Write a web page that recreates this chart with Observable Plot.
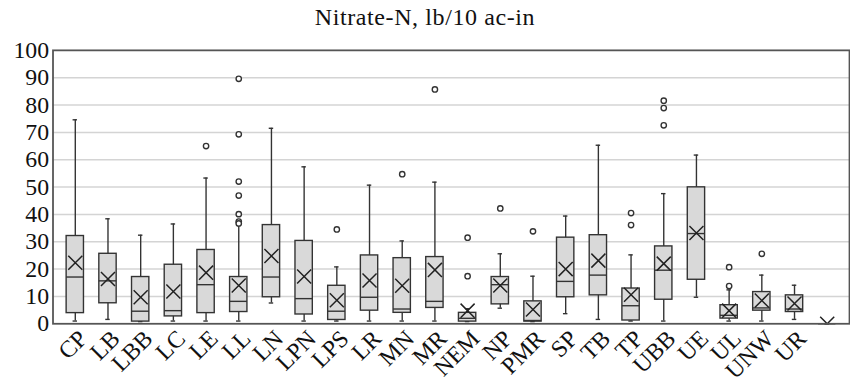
<!DOCTYPE html>
<html>
<head>
<meta charset="utf-8">
<script src="https://cdn.jsdelivr.net/npm/d3@7"></script>
<script src="https://cdn.jsdelivr.net/npm/@observablehq/plot@0.6"></script>
<style>
  html, body { margin: 0; padding: 0; background: #fff; overflow: hidden; width: 850px; height: 385px; }
  #title { width: 850px; height: 35px; line-height: 35px; text-align: center;
           font-family: 'Liberation Serif', serif; font-size: 24px; letter-spacing: 0.6px; color: #111; }
  #chart { width: 850px; overflow: hidden; }
  #chart text { font-family: 'Liberation Serif', serif; }
</style>
</head>
<body>
<div id="title">Nitrate-N, lb/10 ac-in</div>
<div id="chart"></div>
<script>
const categories = ["CP","LB","LBB","LC","LE","LL","LN","LPN","LPS","LR","MN","MR","NEM","NP","PMR","SP","TB","TP","UBB","UE","UL","UNW","UR"," "];
const whiskerLow  = [1.0, 1.6, 0.8, 1.0, 1.0, 1.0, 7.6, 1.0, 1.0, 1.0, 1.0, 1.0, 0.8, 5.7, 0.8, 3.7, 1.6, 1.0, 1.0, 9.7, 1.0, 1.0, 1.6, 0];
const q1          = [3.9, 7.5, 0.8, 2.7, 3.9, 4.3, 9.7, 3.4, 1.4, 4.8, 4.0, 5.8, 0.8, 7.1, 0.8, 9.7, 10.4, 1.2, 8.8, 16.1, 1.9, 4.8, 4.3, 0];
const median      = [17.1, 15.7, 4.6, 4.8, 14.3, 8.2, 17.1, 9.2, 4.6, 9.7, 5.4, 8.2, 2.0, 14.3, 1.2, 15.5, 17.8, 6.6, 19.6, 33.0, 3.1, 5.8, 5.4, 0];
const q3          = [32.1, 25.6, 17.1, 21.6, 27.0, 17.1, 36.1, 30.3, 13.9, 25.0, 24.0, 24.4, 4.0, 17.1, 8.2, 31.5, 32.4, 12.9, 28.3, 49.9, 6.8, 11.6, 10.4, 0];
const whiskerHigh = [74.6, 38.4, 32.4, 36.5, 53.3, 36.0, 71.5, 57.4, 20.8, 50.7, 30.3, 51.8, 5.5, 25.6, 17.4, 39.4, 65.3, 25.2, 47.6, 61.7, 12.4, 17.8, 14.1, 0];
const mean        = [22.3, 16.4, 9.7, 11.8, 18.7, 14.0, 24.8, 17.3, 8.6, 15.8, 13.9, 19.7, 4.8, 14.0, 5.2, 20.0, 23.1, 10.6, 22.0, 33.2, 4.8, 8.5, 7.4, 0];
const outlierCategory = ["LE","LL","LL","LL","LL","LL","LL","LL","LPS","MN","MR","NEM","NEM","NP","PMR","TP","TP","UBB","UBB","UBB","UL","UL","UNW"];
const outlierValue    = [65.0, 89.6, 69.3, 52.0, 46.9, 40.1, 37.4, 36.7, 34.5, 54.7, 85.7, 31.5, 17.4, 42.2, 33.8, 40.5, 36.1, 81.6, 78.9, 72.6, 20.7, 13.8, 25.6];

const boxes = categories.map((c, i) => ({
  cat: c, lo: whiskerLow[i], q1: q1[i], med: median[i], q3: q3[i], hi: whiskerHigh[i], mean: mean[i]
}));
const outliers = outlierCategory.map((c, i) => ({cat: c, v: outlierValue[i]}));

const serif = "'Liberation Serif', serif";
const W = 858, bandW = (W - 53 - 1) / categories.length;
const boxInset = (bandW - 18) / 2;
const capInset = (bandW - 5) / 2;

const chart = Plot.plot({
  width: W,
  height: 350,
  marginLeft: 53,
  marginRight: 1,
  marginTop: 15,
  marginBottom: 59,
  style: {fontFamily: serif, background: "#fff", overflow: "visible"},
  x: {type: "band", domain: categories, padding: 0, axis: null},
  y: {domain: [0, 100], ticks: d3.range(0, 101, 10)},
  marks: [
    Plot.gridY(d3.range(10, 100, 10), {stroke: "#d4d4d4", strokeOpacity: 1, strokeWidth: 1.5}),
    Plot.axisY(d3.range(0, 101, 10), {tickSize: 0, tickPadding: 4, fontSize: 24, fill: "#111", label: null, fontFamily: serif}),
    Plot.ruleX(boxes, {x: "cat", y1: "lo", y2: "hi", stroke: "#333", strokeWidth: 1.4}),
    Plot.tickY(boxes, {x: "cat", y: "hi", stroke: "#333", strokeWidth: 1.4, insetLeft: capInset, insetRight: capInset}),
    Plot.tickY(boxes, {x: "cat", y: "lo", stroke: "#333", strokeWidth: 1.4, insetLeft: capInset, insetRight: capInset}),
    Plot.rectY(boxes, {x: "cat", y1: "q1", y2: "q3", fill: "#d9d9d9", stroke: "#333", strokeWidth: 1.4, insetLeft: boxInset, insetRight: boxInset}),
    Plot.tickY(boxes, {x: "cat", y: "med", stroke: "#333", strokeWidth: 1.4, insetLeft: boxInset, insetRight: boxInset}),
    Plot.dot(boxes, {x: "cat", y: "mean", symbol: "times", r: 6.5, stroke: "#222", strokeWidth: 1.5, clip: "frame"}),
    Plot.dot(outliers, {x: "cat", y: "v", r: 2.7, fill: "#fff", stroke: "#333", strokeWidth: 1.4}),
    Plot.frame({stroke: "#555", strokeWidth: 1.8}),
    Plot.text(categories, {x: d => d, y: 0, text: d => d, rotate: -45, textAnchor: "end", dx: 8, dy: 11,
      fontSize: 24, fill: "#111", fontFamily: serif})
  ]
});
document.getElementById("chart").appendChild(chart);
</script>
</body>
</html>
